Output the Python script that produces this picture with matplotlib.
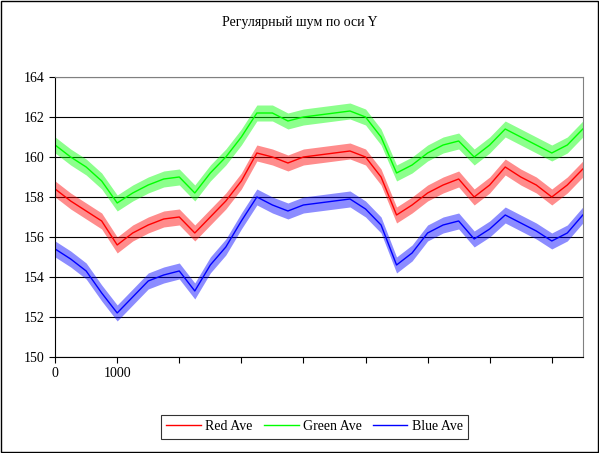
import numpy as np
import matplotlib.pyplot as plt
from matplotlib.patches import Rectangle

plt.rcParams['font.family'] = ['Liberation Serif', 'DejaVu Serif']
plt.rcParams['font.size'] = 10

# sample positions (every 250) and curve centres
samples = list(range(0, 8501, 250))
green_ave = [160.6,160.0,159.5,158.8,157.7,158.2,158.6,158.9,159.0,158.2,159.2,160.0,161.0,162.2,162.2,161.8,162.0,162.1,
             162.2,162.3,162.0,161.0,159.2,159.6,160.2,160.6,160.8,160.0,160.6,161.4,161.0,160.6,160.2,160.6,161.4]
red_ave = [158.4,157.8,157.3,156.8,155.6,156.2,156.6,156.9,157.0,156.2,157.0,157.8,158.8,160.2,160.0,159.7,160.0,160.1,
           160.2,160.3,160.0,159.0,157.1,157.6,158.2,158.6,158.9,158.0,158.6,159.5,159.0,158.6,158.0,158.6,159.4]
blue_ave = [155.4,154.9,154.3,153.2,152.2,153.0,153.8,154.1,154.3,153.3,154.6,155.5,156.8,158.0,157.6,157.3,157.6,157.7,
            157.8,157.9,157.4,156.6,154.6,155.2,156.2,156.6,156.8,155.9,156.4,157.1,156.7,156.3,155.8,156.2,157.1]
noise_amp = 0.4   # visible half-width of the noise band

fig = plt.figure(figsize=(5.99, 4.53), dpi=100)
ax = fig.add_axes([0.092, 0.212, 0.881, 0.618])

for vals, col, lab in [(red_ave, '#ff0000', 'Red Ave'), (green_ave, '#00ff00', 'Green Ave'), (blue_ave, '#0000ff', 'Blue Ave')]:
    v = np.array(vals)
    ax.fill_between(samples, v - noise_amp, v + noise_amp, color=col, alpha=0.45, lw=0)
    ax.plot(samples, v, color=col, lw=1.0, label=lab)

ax.set_xlim(0, 8500)
ax.set_ylim(150, 164)
ax.set_yticks(range(150, 165, 2))
ax.set_xticks(range(0, 8001, 1000))
ax.set_xticklabels(['0', '1000'] + ['']*7)
ax.grid(axis='y', color='black', lw=0.8)
ax.set_axisbelow(True)
for s in ['top', 'right']:
    ax.spines[s].set_color('#808080')
ax.tick_params(direction='out', length=4, labelsize=10)

fig.text(0.5, 0.951, 'Регулярный шум по оси Y', ha='center', va='center', fontsize=10)
handles, labels = ax.get_legend_handles_labels()
leg = fig.legend(handles, labels, loc='center', bbox_to_anchor=(0.525, 0.058), ncol=3,
                 frameon=True, fancybox=False, edgecolor='black', handlelength=2.5,
                 handletextpad=0.3, columnspacing=0.8)
leg.get_frame().set_linewidth(0.8)
fig.patches.append(Rectangle((0.002, 0.002), 0.996, 0.996, transform=fig.transFigure,
                             fill=False, edgecolor='black', lw=1))
fig.savefig('out.png', dpi=100)
